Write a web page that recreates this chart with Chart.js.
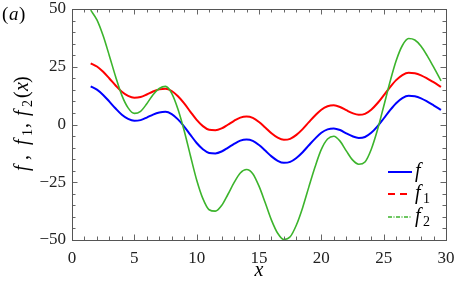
<!DOCTYPE html>
<html>
<head>
<meta charset="utf-8">
<script src="https://cdn.jsdelivr.net/npm/chart.js@4/dist/chart.umd.min.js"></script>
<style>
html,body{margin:0;padding:0;background:#fff;}
#c{display:block;}
</style>
</head>
<body>
<canvas id="c" width="457" height="282"></canvas>
<script>
// x positions of the read points
const xValues = [1.5, 2.0, 2.5, 3.0, 3.5, 4.0, 4.5, 5.0, 5.5, 6.0, 6.5, 7.0, 7.5, 8.0, 8.5, 9.0, 9.5, 10.0, 10.5, 11.0, 11.5, 12.0, 12.5, 13.0, 13.5, 14.0, 14.5, 15.0, 15.5, 16.0, 16.5, 17.0, 17.5, 18.0, 18.5, 19.0, 19.5, 20.0, 20.5, 21.0, 21.5, 22.0, 22.5, 23.0, 23.5, 24.0, 24.5, 25.0, 25.5, 26.0, 26.5, 27.0, 27.5, 28.0, 28.5, 29.0, 29.6];
// f (blue)
const fValues = [16.5, 15.1, 12.8, 9.9, 6.9, 4.2, 2.4, 1.6, 1.9, 3.0, 4.3, 5.2, 5.5, 4.5, 2.2, -0.9, -4.5, -8.0, -10.7, -12.3, -12.5, -11.7, -10.1, -8.4, -7.0, -6.5, -7.1, -8.9, -11.3, -13.8, -15.7, -16.6, -16.2, -14.5, -12.0, -9.0, -6.1, -3.6, -2.1, -1.7, -2.4, -3.8, -5.1, -5.8, -5.4, -3.6, -0.8, 2.6, 6.1, 9.2, 11.4, 12.4, 12.2, 11.3, 9.9, 8.3, 6.3];
// f1 (red)
const f1Values = [26.5, 25.1, 22.8, 19.9, 16.9, 14.2, 12.4, 11.6, 11.9, 13.0, 14.3, 15.2, 15.5, 14.5, 12.2, 9.1, 5.5, 2.0, -0.7, -2.3, -2.5, -1.7, -0.1, 1.6, 3.0, 3.5, 2.9, 1.1, -1.3, -3.8, -5.7, -6.6, -6.2, -4.5, -2.0, 1.0, 3.9, 6.4, 7.9, 8.3, 7.6, 6.2, 4.9, 4.2, 4.6, 6.4, 9.2, 12.6, 16.1, 19.2, 21.4, 22.4, 22.2, 21.3, 19.9, 18.3, 16.3];
// f2 (green)
const f2Values = [49.5, 45.3, 38.4, 29.7, 20.7, 12.6, 7.2, 4.8, 5.7, 9.0, 12.9, 15.6, 16.5, 13.5, 6.6, -2.7, -13.5, -24.0, -32.1, -36.9, -37.5, -35.1, -30.3, -25.2, -21.0, -19.5, -21.3, -26.7, -33.9, -41.4, -47.1, -49.8, -48.6, -43.5, -36.0, -27.0, -18.3, -10.8, -6.3, -5.1, -7.2, -11.4, -15.3, -17.2, -16.2, -10.8, -2.4, 7.8, 18.3, 27.6, 34.2, 37.2, 36.6, 33.9, 29.7, 24.9, 18.9];
const seriesLabels = ['f', 'f1', 'f2'];
const xTicks = [0, 5, 10, 15, 20, 25, 30];
const yTicks = [-50, -25, 0, 25, 50];

const COLORS = ['#0000ff', '#ff0000', '#3cb42c'];
const SERIF = '"Liberation Serif", "DejaVu Serif", serif';

function pts(ys) { return xValues.map((x, i) => ({x: x, y: ys[i]})); }
function fmt(v) { return v < 0 ? '\u2212' + Math.abs(v) : String(v); }

// pieces: [text, italic, sub, offset]
function drawPieces(ctx, pieces, x0, y0, size, subSize, subShift) {
  for (const p of pieces) {
    ctx.font = (p[1] ? 'italic ' : '') + (p[2] ? subSize : size) + 'px ' + SERIF;
    ctx.fillText(p[0], x0 + p[3], y0 + (p[2] ? subShift : 0));
  }
}

const decor = {
  id: 'decor',
  afterDraw(chart) {
    const ctx = chart.ctx;
    const a = chart.chartArea;
    const xs = chart.scales.x, ys = chart.scales.y;
    ctx.save();
    ctx.strokeStyle = '#666';
    ctx.lineWidth = 1;
    ctx.beginPath();
    for (let v = 0; v <= 30; v++) {
      const p = Math.round(xs.getPixelForValue(v)) + 0.5;
      const len = v % 5 === 0 ? 5.5 : 3.5;
      ctx.moveTo(p, a.bottom); ctx.lineTo(p, a.bottom - len);
      ctx.moveTo(p, a.top); ctx.lineTo(p, a.top + len);
    }
    for (let v = -50; v <= 50; v += 5) {
      const p = Math.round(ys.getPixelForValue(v)) + 0.5;
      const len = v % 25 === 0 ? 5.5 : 3.5;
      ctx.moveTo(a.left, p); ctx.lineTo(a.left + len, p);
      ctx.moveTo(a.right, p); ctx.lineTo(a.right - len, p);
    }
    ctx.stroke();
    ctx.strokeStyle = '#555';
    ctx.strokeRect(Math.round(a.left) + 0.5, Math.round(a.top) + 0.5, Math.round(a.right - a.left), Math.round(a.bottom - a.top));

    ctx.fillStyle = '#000';
    ctx.textBaseline = 'alphabetic';
    ctx.textAlign = 'left';
    // (a)
    drawPieces(ctx, [['(', false, false, 0], ['a', true, false, 7], [')', false, false, 17]], 2, 20, 19, 13, 4);
    // x title
    ctx.font = 'italic 20px ' + SERIF;
    ctx.textAlign = 'center';
    ctx.fillText('x', (a.left + a.right) / 2, 276);
    ctx.textAlign = 'left';
    // y title (rotated), offsets along the text direction
    const yPieces = [['f', true, false, 5], [',', false, false, 16], ['f', true, false, 31], ['1', false, true, 40],
                     [',', false, false, 48], ['f', true, false, 60], ['2', false, true, 69], ['(', false, false, 78],
                     ['x', true, false, 85], [')', false, false, 93]];
    ctx.save();
    ctx.translate(28, 176);
    ctx.rotate(-Math.PI / 2);
    drawPieces(ctx, yPieces, 0, 0, 20, 14, 4);
    ctx.restore();

    // legend
    const rows = [172, 194, 217];
    const dashes = [[], [7, 5], [4, 1.5, 1, 1.5]];
    const widths = [2, 2, 1.3];
    const labs = [
      [['f', true, false, 0]],
      [['f', true, false, 0], ['1', false, true, 8]],
      [['f', true, false, 0], ['2', false, true, 8]]
    ];
    for (let i = 0; i < 3; i++) {
      const ds = chart.data.datasets[i];
      ctx.strokeStyle = ds.borderColor;
      ctx.lineWidth = widths[i];
      ctx.setLineDash(dashes[i]);
      ctx.beginPath();
      ctx.moveTo(388, rows[i]); ctx.lineTo(412, rows[i]);
      ctx.stroke();
      ctx.setLineDash([]);
      ctx.fillStyle = '#000';
      drawPieces(ctx, labs[i], 415, rows[i] + 5, 20, 14, 4);
    }
    ctx.restore();
  }
};

new Chart(document.getElementById('c'), {
  type: 'line',
  data: {
    datasets: [
      {label: seriesLabels[0], data: pts(fValues), borderColor: COLORS[0], borderWidth: 2, order: 2},
      {label: seriesLabels[1], data: pts(f1Values), borderColor: COLORS[1], borderWidth: 2, order: 1},
      {label: seriesLabels[2], data: pts(f2Values), borderColor: COLORS[2], borderWidth: 1.6, order: 0}
    ]
  },
  options: {
    responsive: false,
    animation: false,
    devicePixelRatio: 1,
    clip: false,
    elements: {
      point: {radius: 0},
      line: {cubicInterpolationMode: 'monotone', fill: false}
    },
    layout: {padding: {top: 9, right: 11, left: 0, bottom: 0}},
    plugins: {legend: {display: false}, tooltip: {enabled: false}},
    scales: {
      x: {
        type: 'linear', min: 0, max: 30,
        afterFit(s) { s.height = 42; s.paddingLeft = 0; s.paddingRight = 0; },
        afterBuildTicks(s) { s.ticks = xTicks.map(v => ({value: v})); },
        grid: {display: false, drawTicks: false},
        border: {display: false},
        ticks: {padding: 8, color: '#222', font: {family: SERIF, size: 17}, maxRotation: 0, callback: fmt}
      },
      y: {
        type: 'linear', min: -50, max: 50,
        afterFit(s) { s.width = 72; s.paddingTop = 0; s.paddingBottom = 0; },
        afterBuildTicks(s) { s.ticks = yTicks.map(v => ({value: v})); },
        grid: {display: false, drawTicks: false},
        border: {display: false},
        ticks: {padding: 6, color: '#222', font: {family: SERIF, size: 17}, callback: fmt}
      }
    }
  },
  plugins: [decor]
});
</script>
</body>
</html>
